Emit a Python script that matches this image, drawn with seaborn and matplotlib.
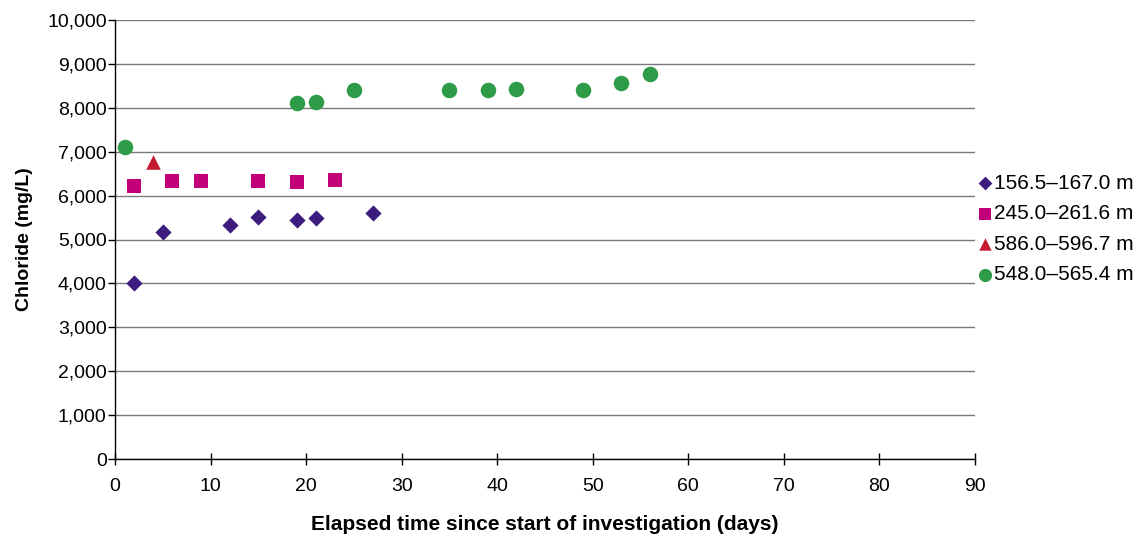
import matplotlib
matplotlib.use('Agg')
import matplotlib.pyplot as plt
import matplotlib.ticker as mticker
import seaborn as sns
import pandas as pd

# Data
days_156 = [2, 5, 12, 15, 19, 21, 27]
chloride_156 = [4000, 5170, 5335, 5510, 5445, 5490, 5595]

days_245 = [2, 6, 9, 15, 19, 23]
chloride_245 = [6220, 6340, 6330, 6340, 6305, 6350]

days_586 = [4]
chloride_586 = [6770]

days_548 = [1, 19, 21, 25, 35, 39, 42, 49, 53, 56]
chloride_548 = [7115, 8105, 8130, 8405, 8405, 8405, 8425, 8405, 8555, 8760]

labels = ["156.5\u2013167.0 m", "245.0\u2013261.6 m", "586.0\u2013596.7 m", "548.0\u2013565.4 m"]
colors = ["#3D1C80", "#C2007A", "#C41A30", "#2E9B48"]
markers = ["D", "s", "^", "o"]
sizes = [68, 110, 110, 125]

series = [(days_156, chloride_156), (days_245, chloride_245),
          (days_586, chloride_586), (days_548, chloride_548)]

sns.set_style("white")
plt.rcParams['font.family'] = ['Liberation Sans', 'DejaVu Sans']
plt.rcParams['text.color'] = 'black'
plt.rcParams['axes.labelcolor'] = 'black'
plt.rcParams['xtick.color'] = 'black'
plt.rcParams['ytick.color'] = 'black'

fig = plt.figure(figsize=(11.43, 5.39), dpi=100)
ax = fig.add_axes([115 / 1143, 1 - 459 / 539, 860 / 1143, 439 / 539])

for (x, y), lab, col, mk, sz in zip(series, labels, colors, markers, sizes):
    df = pd.DataFrame({"days": x, "chloride": y})
    sns.scatterplot(data=df, x="days", y="chloride", ax=ax, color=col, marker=mk,
                    s=sz, linewidth=0, label=lab, zorder=3)

ax.set_xlim(0, 90)
ax.set_ylim(0, 10000)
ax.set_xticks(range(0, 91, 10))
ax.set_yticks(range(0, 10001, 1000))
ax.yaxis.set_major_formatter(mticker.FuncFormatter(lambda v, p: f"{int(v):,}"))
ax.grid(axis='y', color='#7a7a7a', linewidth=1)
ax.set_axisbelow(True)

for s in ['top', 'right']:
    ax.spines[s].set_visible(False)
for s in ['left', 'bottom']:
    ax.spines[s].set_color('black')
    ax.spines[s].set_linewidth(1)

ax.tick_params(axis='both', which='major', labelsize=14, length=5, width=1,
               left=True, bottom=True)
ax.tick_params(axis='y', direction='out', pad=1)
ax.tick_params(axis='x', direction='inout', length=8, pad=10)

ax.set_xlabel("Elapsed time since start of investigation (days)", fontsize=15,
              fontweight='bold', labelpad=14)
ax.set_ylabel("Chloride (mg/L)", fontsize=14, fontweight='bold', labelpad=10)

ax.get_legend().remove()
handles, leg_labels = ax.get_legend_handles_labels()
fig.legend(handles, leg_labels, loc='center left',
           bbox_to_anchor=(967 / 1143, 1 - 229 / 539), frameon=False,
           fontsize=15, markerscale=0.85, handletextpad=0.0, handlelength=0.9,
           labelspacing=0.55, borderaxespad=0)

plt.savefig("out.png", dpi=100)
plt.close()
